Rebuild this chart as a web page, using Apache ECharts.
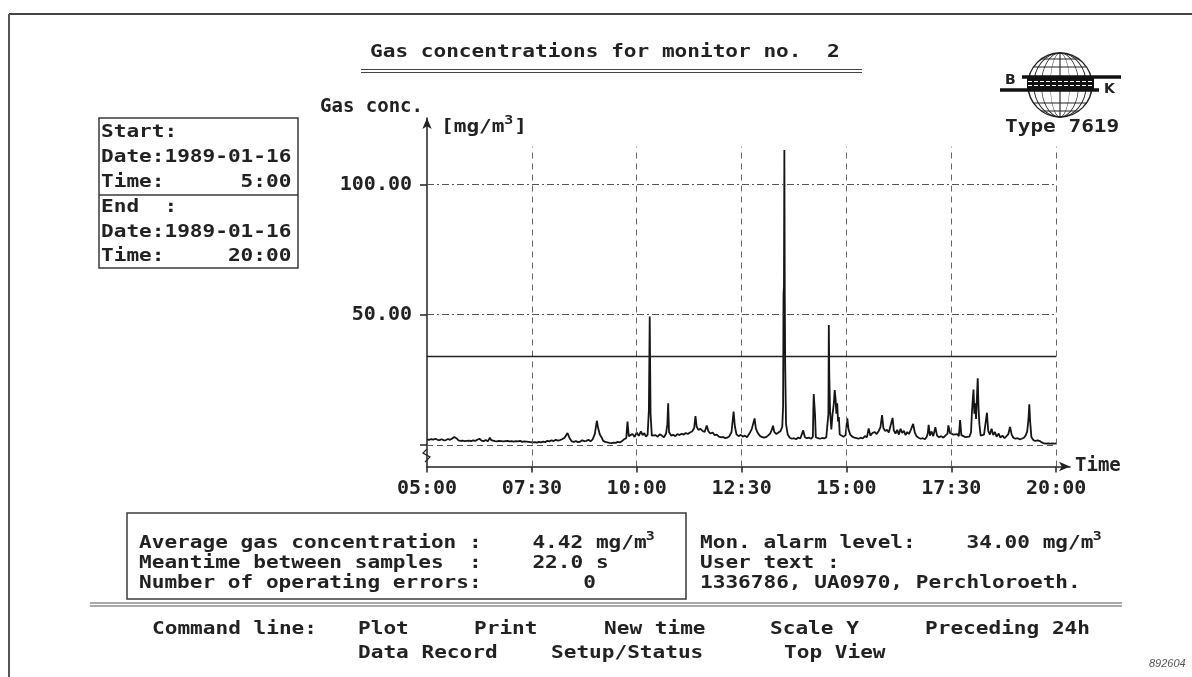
<!DOCTYPE html>
<html><head><meta charset="utf-8">
<script src="https://cdn.jsdelivr.net/npm/echarts@6/dist/echarts.min.js"></script>
<style>html,body{margin:0;padding:0;background:#fff}#c{width:1192px;height:677px}</style>
</head><body><div id="c"></div>
<script>
// ---- data (hours of day, mg/m3) ----
const sampleTimes = [
 5.00,5.05,5.10,5.15,5.20,5.25,5.30,5.35,5.40,5.45,5.50,5.55,5.60,5.65,5.70,5.75,5.80,5.85,5.90,5.95,6.00,6.05,6.10,6.15,6.20,6.25,6.30,6.35,6.40,6.45,6.50,6.53,6.57,6.62,6.67,6.72,6.77,6.82,6.87,6.92,6.97,7.02,7.07,7.12,7.17,7.22,7.27,7.32,7.37,7.42,7.47,
 7.52,7.57,7.62,7.67,7.72,7.77,7.82,7.87,7.92,7.97,8.02,8.07,8.12,8.17,8.22,8.28,8.35,8.40,8.45,8.50,8.55,8.60,8.65,8.70,8.75,8.80,8.85,8.90,8.95,9.00,9.05,9.08,9.12,9.16,9.20,9.25,9.30,9.35,9.40,9.45,9.50,9.55,9.60,9.65,9.70,9.75,9.78,9.81,9.85,9.90,9.95,
 10.00,10.05,10.10,10.14,10.18,10.22,10.26,10.29,10.31,10.33,10.36,10.40,10.45,10.50,10.55,10.60,10.65,10.70,10.73,10.75,10.77,10.82,10.87,10.92,10.97,11.02,11.07,11.12,11.17,11.22,11.27,11.32,11.37,11.40,11.43,11.47,11.52,11.57,11.62,11.67,11.71,11.76,11.81,11.86,11.91,11.96,12.01,12.06,12.11,12.16,12.21,12.26,12.31,12.34,12.38,12.43,12.48,
 12.53,12.58,12.63,12.68,12.74,12.78,12.81,12.84,12.88,12.93,12.98,13.03,13.08,13.13,13.18,13.22,13.25,13.28,13.33,13.38,13.43,13.47,13.49,13.50,13.51,13.52,13.53,13.54,13.56,13.60,13.65,13.70,13.75,13.80,13.85,13.90,13.94,13.97,14.01,14.06,14.11,14.16,14.20,14.21,14.22,14.24,14.25,14.27,14.32,14.37,14.42,14.47,14.52,14.55,14.57,14.58,14.59,14.61,14.64,14.67,14.70,14.72,14.74,14.76,14.78,14.80,14.82,14.84,14.88,14.93,14.98,
 15.02,15.05,15.09,15.14,15.19,15.24,15.29,15.34,15.39,15.44,15.49,15.53,15.57,15.62,15.67,15.72,15.77,15.81,15.85,15.88,15.92,15.97,16.01,16.05,16.10,16.13,16.17,16.21,16.25,16.29,16.33,16.37,16.41,16.45,16.49,16.54,16.59,16.63,16.67,16.72,16.77,16.82,16.87,16.91,16.94,16.96,16.99,17.03,17.07,17.12,17.16,17.21,17.26,17.31,17.36,17.41,17.43,17.47,
 17.51,17.55,17.59,17.64,17.68,17.71,17.74,17.79,17.84,17.88,17.93,17.97,17.99,18.01,18.03,18.05,18.07,18.09,18.11,18.13,18.15,18.17,18.20,18.24,18.28,18.32,18.35,18.38,18.42,18.46,18.50,18.54,18.58,18.63,18.67,18.72,18.77,18.81,18.86,18.90,18.94,18.98,19.03,19.08,19.13,19.18,19.23,19.27,19.31,19.34,19.36,19.38,19.41,19.46,19.51,19.56,19.61,19.66,19.71,19.76,19.81,19.86,19.91,19.96,20.00
];
const gasValues = [
 2.2,2.0,2.3,2.1,2.4,2.0,1.9,2.2,1.8,1.9,2.3,2.0,2.5,3.1,2.6,1.8,1.6,1.7,1.5,1.6,1.7,1.5,1.8,1.6,2.0,2.4,1.7,1.5,1.9,1.4,2.8,1.9,1.3,1.5,1.4,1.6,1.5,1.4,1.5,1.6,1.4,1.5,1.3,1.5,1.4,1.6,1.2,1.4,1.3,1.2,1.1,
 1.0,1.1,0.9,1.2,1.0,1.3,1.1,1.6,1.4,1.8,1.5,2.0,1.7,1.9,2.2,2.8,4.6,2.6,1.4,1.2,1.5,1.1,1.3,1.8,1.5,1.6,2.0,1.4,2.2,4.2,9.3,6.5,4.0,3.0,1.6,1.2,1.0,0.8,0.7,0.9,0.8,1.2,1.0,1.5,2.2,2.6,9.0,3.4,3.0,4.2,3.1,
 4.8,3.5,5.2,3.8,4.6,3.2,4.0,13.4,49.3,12.0,3.6,3.0,3.8,3.2,4.1,3.6,3.0,4.4,8.0,16.0,5.0,3.6,3.9,3.4,4.2,3.8,4.3,4.0,4.6,4.2,4.8,5.2,6.5,11.1,7.0,5.8,6.2,5.4,5.0,7.5,5.2,4.4,4.8,3.8,4.0,3.2,2.9,3.1,2.6,2.8,3.4,5.0,12.8,7.2,4.0,3.4,3.9,
 3.2,3.6,3.0,4.2,6.0,8.4,10.2,6.4,4.8,3.6,3.1,2.8,3.0,3.6,4.4,5.8,7.4,5.0,4.2,4.8,5.4,7.0,15.0,58.0,60.8,113.2,57.0,30.0,8.0,4.0,2.8,2.4,2.6,2.2,2.9,2.5,3.2,5.6,3.0,2.6,2.8,2.4,3.2,13.0,19.6,19.0,12.0,3.0,2.6,2.4,2.7,2.5,3.0,3.5,12.0,46.1,28.0,13.0,6.0,12.0,16.0,21.1,18.0,12.0,16.0,9.0,10.7,4.0,3.6,3.2,3.8,
 10.2,6.0,4.0,3.2,2.8,2.6,2.4,2.8,2.5,3.4,3.0,6.4,3.6,4.6,5.0,4.2,5.4,6.8,11.5,6.6,5.4,5.8,4.8,5.2,10.4,5.6,4.4,5.8,4.0,6.2,4.6,5.4,3.8,5.0,4.2,6.0,8.1,4.8,3.4,2.8,2.4,2.6,2.2,3.0,4.6,7.7,3.6,5.2,3.4,6.8,3.6,3.0,3.4,2.8,3.6,4.4,7.5,4.6,
 5.2,4.0,3.6,4.2,3.4,9.6,3.8,3.4,3.0,3.6,3.2,4.8,12.0,17.0,21.3,12.0,16.0,10.0,18.0,25.6,14.0,8.0,3.6,3.0,4.0,3.4,12.4,5.4,4.0,6.2,3.8,5.0,3.2,4.4,2.8,3.6,2.6,3.2,4.2,6.9,4.0,2.8,2.4,2.6,2.2,2.4,2.8,3.6,5.2,10.0,15.6,9.0,3.0,1.8,1.6,1.8,1.5,1.0,0.6,0.5,0.6,0.5,0.6,0.5,0.6
];
const timeTicks = [5, 7.5, 10, 12.5, 15, 17.5, 20];
const concTicks = [0, 50, 100];
const concLabels = [50, 100];
const alarmLevel = 34;
const hGridLevels = [0, 50, 100];
const vGridTimes = [7.5, 10, 12.5, 15, 17.5, 20];

if (sampleTimes.length !== gasValues.length) console.error('length mismatch', sampleTimes.length, gasValues.length);

// ---- axis ranges ----
const X_MIN = 5, X_MAX = 20.33, Y_MIN = -8.25, Y_MAX = 125.5, V_TOP = 114.5;

function hhmm(v) {
  const h = Math.floor(v + 1e-9);
  const m = Math.round((v - h) * 60);
  return String(h).padStart(2, '0') + ':' + String(m).padStart(2, '0');
}

const MONO = '"DejaVu Sans Mono", "Liberation Mono", monospace';
const INK = '#222';
const CW = 12.67; // character advance of the panel text
function T(x, y, text, o) {
  o = o || {};
  return {
    type: 'text', x: x, y: y, scaleX: o.sx || 1.24, silent: true, z: 10,
    style: { text: text, fontFamily: o.ff || MONO, fontSize: o.fs || 17, fontStyle: o.italic ? 'italic' : 'normal',
      fontWeight: o.fw || 'bold', fill: o.fill || INK, align: o.align || 'left', verticalAlign: 'middle' }
  };
}
function L(x1, y1, x2, y2, w, c, dash) {
  return { type: 'line', silent: true, shape: { x1: x1, y1: y1, x2: x2, y2: y2 },
    style: { stroke: c || '#333', lineWidth: w || 1.2, lineDash: dash || null } };
}
function R(x, y, w, h, lw) {
  return { type: 'rect', silent: true, shape: { x: x, y: y, width: w, height: h },
    style: { fill: 'none', stroke: '#3a3a3a', lineWidth: lw || 1.5 } };
}

// ---- marks built from the data arrays ----
const seriesData = sampleTimes.map((t, i) => [t, gasValues[i]]);
const markLines = [];
hGridLevels.forEach(v => markLines.push([
  { coord: [X_MIN, v], lineStyle: { color: '#555', width: 1, type: v === 0 ? [6, 4] : [7, 3, 2, 3] } },
  { coord: [20, v] }
]));
vGridTimes.forEach(t => markLines.push([
  { coord: [t, Y_MIN], lineStyle: { color: '#666', width: 1, type: [6, 5] } },
  { coord: [t, V_TOP] }
]));
markLines.push([
  { coord: [X_MIN, alarmLevel], lineStyle: { color: '#222', width: 1.3, type: 'solid' } },
  { coord: [20, alarmLevel] }
]);

// ---- decorative panel ----
const g = [];
// frame
g.push(L(9, 14, 1192, 14, 2, '#444'));
g.push(L(9, 14, 9, 677, 2, '#555'));
// title
g.push(T(370, 53, 'Gas concentrations for monitor no.  2'));
g.push(L(361, 69.5, 862, 69.5, 1.2, '#444'));
g.push(L(361, 72.5, 862, 72.5, 1.2, '#444'));
// start / end box
g.push(R(99, 118, 199, 150));
g.push(L(99, 195, 298, 195, 1.5, '#3a3a3a'));
const boxRows = ['Start:', 'Date:1989-01-16', 'Time:      5:00', 'End  :', 'Date:1989-01-16', 'Time:     20:00'];
const boxY = [133, 158, 183, 208, 233, 257];
boxRows.forEach((s, i) => g.push(T(101, boxY[i], s)));
// unit label
g.push(T(441, 128, '[mg/m'));
g.push(T(441 + 5 * CW, 121, '3', { fs: 12 }));
g.push(T(441 + 5 * CW + 10, 128, ']'));
// logo
g.push({ type: 'circle', silent: true, shape: { cx: 1060, cy: 85, r: 32 }, style: { fill: 'none', stroke: '#222', lineWidth: 1.4 } });
[0.3, 0.58, 0.82].forEach(k => g.push({ type: 'circle', silent: true, x: 1060, y: 85, scaleX: k,
  shape: { cx: 0, cy: 0, r: 32 }, style: { fill: 'none', stroke: '#222', lineWidth: 1.1, strokeNoScale: true } }));
g.push(L(1060, 53, 1060, 117, 1.1, '#222'));
[-26, -18, 18, 26].forEach(d => { const hw = Math.sqrt(32 * 32 - d * d); g.push(L(1060 - hw, 85 + d, 1060 + hw, 85 + d, 1.1, '#222')); });
g.push({ type: 'rect', silent: true, shape: { x: 1027, y: 78, width: 67, height: 11 }, style: { fill: '#111' } });
g.push(L(1028, 81.5, 1093, 81.5, 1.2, '#fff', [4, 2]));
g.push(L(1028, 85.5, 1093, 85.5, 1.2, '#fff', [4, 2]));
g.push(L(1022, 77, 1121, 77, 3.5, '#111'));
g.push(L(1000, 90, 1099, 90, 3.5, '#111'));
g.push(T(1005, 80, 'B', { ff: '"DejaVu Sans", sans-serif', fs: 14, sx: 1 }));
g.push(T(1104, 89, 'K', { ff: '"DejaVu Sans", sans-serif', fs: 14, sx: 1 }));
g.push(T(1005, 128, 'Type 7619'));
// axis break mark
g.push({ type: 'polyline', silent: true, z: 20, shape: { points: [[427, 449], [423, 453], [430, 457], [425, 462]] },
  style: { stroke: '#222', lineWidth: 1.2, fill: 'none' } });
// statistics box
const rowY = [544, 564, 584];
g.push(R(127, 513, 559, 86));
g.push(T(139, rowY[0], 'Average gas concentration :    4.42 mg/m'));
g.push(T(139 + 40 * CW, rowY[0] - 7, '3', { fs: 12 }));
g.push(T(139, rowY[1], 'Meantime between samples  :    22.0 s'));
g.push(T(139, rowY[2], 'Number of operating errors:        0'));
g.push(T(700, rowY[0], 'Mon. alarm level:    34.00 mg/m'));
g.push(T(700 + 31 * CW, rowY[0] - 7, '3', { fs: 12 }));
g.push(T(700, rowY[1], 'User text :'));
g.push(T(700, rowY[2], '1336786, UA0970, Perchloroeth.'));
// separator
g.push(L(90, 603, 1122, 603, 1.2, '#555'));
g.push(L(90, 606, 1122, 606, 1.2, '#555'));
// command line
g.push(T(152, 630, 'Command line:'));
g.push(T(358, 630, 'Plot'));
g.push(T(474, 630, 'Print'));
g.push(T(604, 630, 'New time'));
g.push(T(770, 630, 'Scale Y'));
g.push(T(925, 630, 'Preceding 24h'));
g.push(T(358, 654, 'Data Record'));
g.push(T(551, 654, 'Setup/Status'));
g.push(T(784, 654, 'Top View'));
g.push(T(1149, 664, '892604', { ff: '"Liberation Sans", sans-serif', fs: 11, sx: 1, fw: 'normal', italic: true, fill: '#555' }));

const chart = echarts.init(document.getElementById('c'), null, { renderer: 'canvas' });
chart.setOption({
  animation: false,
  backgroundColor: '#fff',
  grid: { left: 427, right: 122, top: 118, bottom: 210.5, containLabel: false },
  xAxis: {
    type: 'value', min: X_MIN, max: X_MAX,
    name: 'Time', nameLocation: 'end', nameGap: 5,
    nameTextStyle: { fontFamily: MONO, fontSize: 19, fontWeight: 'bold', color: INK, verticalAlign: 'middle', align: 'left', padding: [0, 0, 26, 0] },
    axisLine: { onZero: false, symbol: ['none', 'arrow'], symbolSize: [7, 11], lineStyle: { color: '#222', width: 1.5 } },
    axisTick: { show: true, customValues: timeTicks, length: 6, lineStyle: { color: '#222', width: 1.5 } },
    axisLabel: { customValues: timeTicks, formatter: v => hhmm(v), fontFamily: MONO, fontSize: 20, fontWeight: 'bold', color: INK, margin: 12 },
    splitLine: { show: false }
  },
  yAxis: {
    type: 'value', min: Y_MIN, max: Y_MAX,
    name: 'Gas conc.', nameLocation: 'end', nameGap: 11,
    nameTextStyle: { fontFamily: MONO, fontSize: 19, fontWeight: 'bold', color: INK, align: 'right', verticalAlign: 'middle', padding: [0, 4, 0, 0] },
    axisLine: { onZero: false, symbol: ['none', 'arrow'], symbolSize: [7, 11], lineStyle: { color: '#222', width: 1.5 } },
    axisTick: { show: true, customValues: concTicks, length: 7, lineStyle: { color: '#222', width: 1.5 } },
    axisLabel: { customValues: concLabels, formatter: v => v.toFixed(2), fontFamily: MONO, fontSize: 20, fontWeight: 'bold', color: INK, margin: 15 },
    splitLine: { show: false }
  },
  series: [{
    type: 'line', data: seriesData, showSymbol: false, symbol: 'none',
    lineStyle: { color: '#151515', width: 1.8 },
    markLine: { silent: true, symbol: ['none', 'none'], label: { show: false }, data: markLines }
  }],
  graphic: g
});
</script></body></html>
